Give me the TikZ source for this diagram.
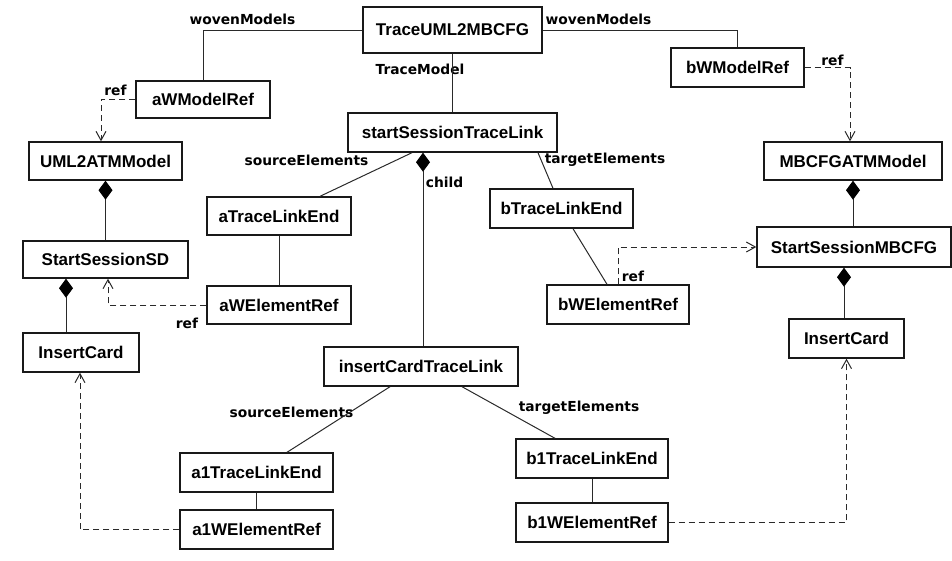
\documentclass[tikz,border=0pt]{standalone}
\usepackage{fontspec}
\setmainfont{Liberation Sans}
\newfontfamily\lblfont{DejaVu Sans}
\usetikzlibrary{arrows.meta}
\definecolor{edgegray}{HTML}{2A2A2A}
\begin{document}
\begin{tikzpicture}[x=1pt,y=-1pt,
  umlbox/.style={draw=black!90,line width=1.4pt,inner sep=0pt,
    font=\fontsize{17}{20}\selectfont\bfseries,anchor=center},
  rolelbl/.style={inner sep=0pt,font=\lblfont\fontsize{13.8}{16}\selectfont\bfseries},
  assoc/.style={draw=edgegray,line width=1pt},
  comp/.style={assoc,{Diamond[length=19pt,width=14pt,color=black,fill=black]}-},
  refline/.style={draw=edgegray,line width=1pt,dash pattern=on 6pt off 4pt,
    -{Straight Barb[length=9pt,width=10pt,line width=1pt]}}]
\useasboundingbox (0,0) rectangle (952,560);

% model boxes
\node[umlbox,minimum width=179pt,minimum height=46pt] (tr)   at (452.5,30)  {TraceUML2MBCFG};
\node[umlbox,minimum width=134pt,minimum height=37pt] (awm)  at (203,99.5)  {aWModelRef};
\node[umlbox,minimum width=133pt,minimum height=39pt] (bwm)  at (737.5,67.5) {bWModelRef};
\node[umlbox,minimum width=153pt,minimum height=38pt] (uml)  at (105.5,161) {UML2ATMModel};
\node[umlbox,minimum width=178pt,minimum height=38pt] (mbm)  at (853,161)   {MBCFGATMModel};
\node[umlbox,minimum width=209pt,minimum height=39pt] (sstl) at (452.5,132.5) {startSessionTraceLink};
\node[umlbox,minimum width=144pt,minimum height=38pt] (atle) at (279,216)   {aTraceLinkEnd};
\node[umlbox,minimum width=144pt,minimum height=38pt] (awe)  at (279,305)   {aWElementRef};
\node[umlbox,minimum width=165pt,minimum height=37pt] (ssd)  at (105.5,259.5) {StartSessionSD};
\node[umlbox,minimum width=116pt,minimum height=39pt] (icl)  at (81,352.5)  {InsertCard};
\node[umlbox,minimum width=143pt,minimum height=39pt] (btle) at (561.5,208.5) {bTraceLinkEnd};
\node[umlbox,minimum width=142pt,minimum height=39pt] (bwe)  at (618,304.5) {bWElementRef};
\node[umlbox,minimum width=194pt,minimum height=40pt] (ssm)  at (854,247)   {StartSessionMBCFG};
\node[umlbox,minimum width=115pt,minimum height=39pt] (icr)  at (846.5,338.5) {InsertCard};
\node[umlbox,minimum width=194pt,minimum height=39pt] (ictl) at (421,366.5) {insertCardTraceLink};
\node[umlbox,minimum width=153pt,minimum height=39pt] (a1tle) at (256.5,472.5) {a1TraceLinkEnd};
\node[umlbox,minimum width=153pt,minimum height=39pt] (a1we)  at (256.5,529.5) {a1WElementRef};
\node[umlbox,minimum width=152pt,minimum height=39pt] (b1tle) at (592,458.5) {b1TraceLinkEnd};
\node[umlbox,minimum width=152pt,minimum height=39pt] (b1we)  at (592,522.5) {b1WElementRef};

% role labels
\node[rolelbl] (lwovA)  at (242.5,19)  {wovenModels};
\node[rolelbl] (lwovB)  at (598.5,19)  {wovenModels};
\node[rolelbl] (ltm)    at (420,69)    {TraceModel};
\node[rolelbl] (lrefA)  at (115.5,90)  {ref};
\node[rolelbl] (lsrcA)  at (306.5,160) {sourceElements};
\node[rolelbl] (lchild) at (444.5,182) {child};
\node[rolelbl] (ltgtA)  at (605,160)   {targetElements};
\node[rolelbl] (lrefB)  at (187,323)   {ref};
\node[rolelbl] (lrefC)  at (633,276)   {ref};
\node[rolelbl] (lrefD)  at (832.5,60)  {ref};
\node[rolelbl] (lsrcB)  at (291.5,412) {sourceElements};
\node[rolelbl] (ltgtB)  at (579,408)   {targetElements};

% associations
\draw[assoc] (tr.west) -| (awm.north);
\draw[assoc] (tr.east) -| (bwm.north);
\draw[assoc] (tr.south) -- (sstl.north);
\draw[assoc] ([xshift=-40.5pt]sstl.south) -- ([xshift=41pt]atle.north);
\draw[assoc] ([xshift=85.5pt]sstl.south) -- ([xshift=-8.5pt]btle.north);
\draw[comp]  ([xshift=-29.5pt]sstl.south) -- ([xshift=-29.5pt]sstl.south |- ictl.north);
\draw[assoc] (atle.south) -- (awe.north);
\draw[assoc] ([xshift=11.5pt]btle.south) -- ([xshift=-11pt]bwe.north);
\draw[assoc] ([xshift=-31pt]ictl.south) -- ([xshift=30.5pt]a1tle.north);
\draw[assoc] ([xshift=41pt]ictl.south) -- ([xshift=-37pt]b1tle.north);
\draw[assoc] (a1tle.south) -- (a1we.north);
\draw[assoc] (b1tle.south) -- (b1we.north);

% compositions
\draw[comp] (uml.south) -- (ssd.north);
\draw[comp] ([xshift=-39.5pt]ssd.south) -- ([xshift=-39.5pt]ssd.south |- icl.north);
\draw[comp] (mbm.south) -- (mbm.south |- ssm.north);
\draw[comp] ([xshift=-10pt]ssm.south) -- ([xshift=-10pt]ssm.south |- icr.north);

% references
\draw[refline] (awm.west) -| ([xshift=-4.5pt]uml.north);
\draw[refline] (bwm.east) -| ([xshift=-3pt]mbm.north);
\draw[refline] (awe.west) -| ([xshift=2.5pt]ssd.south);
\draw[refline] (bwe.north) |- (ssm.west);
\draw[refline] (a1we.west) -| ([xshift=-1pt]icl.south);
\draw[refline] (b1we.east) -| (icr.south);
\end{tikzpicture}
\end{document}
